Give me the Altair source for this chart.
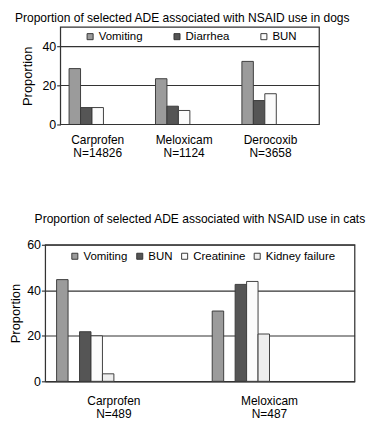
import altair as alt
import pandas as pd

FONT = "Liberation Sans"
INK = "#333333"

# ---------------- data ----------------
dogs_drugs = ["Carprofen", "Meloxicam", "Derocoxib"]
dogs_counts = ["N=14826", "N=1124", "N=3658"]
dogs_ade = ["Vomiting", "Diarrhea", "BUN"]
dogs_vomiting = [28.7, 23.5, 32.4]
dogs_diarrhea = [8.7, 9.4, 12.3]
dogs_bun = [8.7, 7.2, 15.8]
dogs_colors = ["#9b9b9b", "#555555", "#fbfbfb"]
dogs_ticks = [0, 20, 40]
dogs_grid = [20, 40]

cats_drugs = ["Carprofen", "Meloxicam"]
cats_counts = ["N=489", "N=487"]
cats_ade = ["Vomiting", "BUN", "Creatinine", "Kidney failure"]
cats_vomiting = [44.7, 30.9]
cats_bun = [21.8, 42.6]
cats_creatinine = [20.0, 43.9]
cats_kidney = [3.3, 20.8]
cats_colors = ["#9b9b9b", "#555555", "#fbfbfb", "#eeeeee"]
cats_ticks = [0, 20, 40, 60]

dogs_labels = [f"{d}|{n}" for d, n in zip(dogs_drugs, dogs_counts)]
cats_labels = [f"{d}|{n}" for d, n in zip(cats_drugs, cats_counts)]

dogs_rows = []
for ade, vals in zip(dogs_ade, [dogs_vomiting, dogs_diarrhea, dogs_bun]):
    for lab, v in zip(dogs_labels, vals):
        dogs_rows.append({"drug": lab, "ade": ade, "value": v})
dogs_df = pd.DataFrame(dogs_rows)

cats_rows = []
for ade, vals in zip(cats_ade, [cats_vomiting, cats_bun, cats_creatinine, cats_kidney]):
    for lab, v in zip(cats_labels, vals):
        cats_rows.append({"drug": lab, "ade": ade, "value": v})
cats_df = pd.DataFrame(cats_rows)

# ---------------- layout ----------------
W_D, H_D = 287, 102
AX_D = 16          # visible dogs frame starts this far right of group origin
W_C, H_C = 324, 143


def x_axis(pad):
    return alt.Axis(title=None, labelAngle=0, labelExpr="split(datum.label, '|')",
                    domain=False, ticks=False, labelPadding=pad, labelFontSize=12.5,
                    labelLineHeight=14, labelColor="black", labelFont=FONT)


def y_axis(values, offset, grid, tpad):
    return alt.Axis(title="Proportion", values=values, grid=grid, gridColor=INK, gridWidth=1.2,
                    domain=False, offset=offset, tickSize=4, tickColor=INK, tickWidth=1.2,
                    labelPadding=1, labelFontSize=13, labelColor="black", labelFont=FONT,
                    titleFontSize=13.5, titleFontWeight="normal", titleColor="black",
                    titleFont=FONT, titlePadding=tpad)


def legend(x, y, colpad, align):
    return alt.Legend(title=None, orient="none", legendX=x, legendY=y, direction="horizontal",
                      symbolType="square", symbolSize=40, symbolStrokeColor=INK,
                      symbolStrokeWidth=1, labelFontSize=12, labelFont=FONT,
                      labelColor="black", labelOffset=3, columnPadding=colpad,
                      gridAlign=align)


def title(text, offset):
    return alt.TitleParams(text, fontSize=12.6, fontWeight="normal", font=FONT, color="black",
                           offset=offset, anchor="middle")


dogs_y_scale = alt.Scale(domain=[0, 50], nice=False)

# ---------------- dogs ----------------
dogs_gridlines = alt.Chart(pd.DataFrame({"value": dogs_grid})).mark_rule(
    color=INK, strokeWidth=1.2).encode(
    y=alt.Y("value:Q", scale=dogs_y_scale, axis=y_axis(dogs_ticks, -AX_D, False, 8)),
    x=alt.value(AX_D), x2=alt.value(W_D),
)

dogs_bars = alt.Chart(dogs_df).mark_bar(stroke="#3a3a3a", strokeWidth=1).encode(
    x=alt.X("drug:N", sort=dogs_labels,
            scale=alt.Scale(paddingInner=0.337, paddingOuter=0.254, align=0.543),
            axis=x_axis(10)),
    xOffset=alt.XOffset("ade:N", sort=dogs_ade,
                        scale=alt.Scale(paddingInner=0, paddingOuter=0)),
    y=alt.Y("value:Q", scale=dogs_y_scale, axis=y_axis(dogs_ticks, -AX_D, False, 8)),
    color=alt.Color("ade:N", sort=dogs_ade,
                    scale=alt.Scale(domain=dogs_ade, range=dogs_colors),
                    legend=legend(41, 4, 29, "all")),
)

dogs_frame = alt.Chart(pd.DataFrame({"f": [0]})).mark_rect(
    fill="transparent", stroke=INK, strokeWidth=1.3).encode(
    x=alt.value(AX_D), x2=alt.value(W_D), y=alt.value(0), y2=alt.value(H_D),
)

dogs = alt.layer(dogs_gridlines, dogs_bars, dogs_frame).properties(
    width=W_D, height=H_D,
    title=title("Proportion of selected ADE associated with NSAID use in dogs", 2),
    view=alt.ViewBackground(stroke="transparent"),
)

# ---------------- cats ----------------
cats = alt.Chart(cats_df).mark_bar(stroke="#3a3a3a", strokeWidth=1).encode(
    x=alt.X("drug:N", sort=cats_labels,
            scale=alt.Scale(paddingInner=0.264, paddingOuter=0.126, align=0.29),
            axis=x_axis(14)),
    xOffset=alt.XOffset("ade:N", sort=cats_ade,
                        scale=alt.Scale(paddingInner=0, paddingOuter=0)),
    y=alt.Y("value:Q", scale=alt.Scale(domain=[0, 60], nice=False),
            axis=y_axis(cats_ticks, 0, True, 4)),
    color=alt.Color("ade:N", sort=cats_ade,
                    scale=alt.Scale(domain=cats_ade, range=cats_colors),
                    legend=legend(25, 6, 6, "none")),
).properties(
    width=W_C, height=H_C,
    title=title("Proportion of selected ADE associated with NSAID use in cats", 14),
    view=alt.ViewBackground(stroke=INK, strokeWidth=1.3),
)

chart = alt.vconcat(dogs, cats, spacing=55).resolve_scale(color="independent").properties(
    padding={"left": 0, "top": -6, "right": 0, "bottom": 0}
).configure(font=FONT)

chart.save("out.html", embed_options={"renderer": "svg", "actions": False})
